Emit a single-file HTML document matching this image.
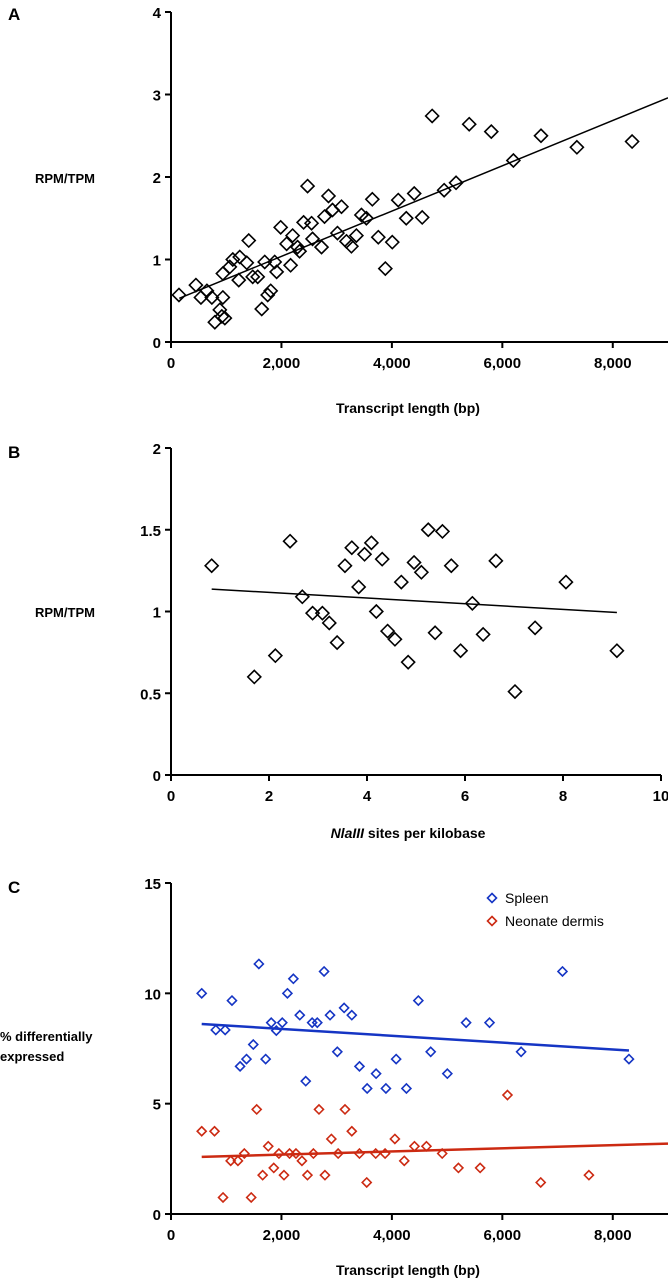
<!DOCTYPE html>
<html><head><meta charset="utf-8"><style>
html,body{margin:0;padding:0;background:#fff;}
svg{display:block;font-family:"Liberation Sans",Arial,sans-serif;}
</style></head><body>
<svg id="fig" width="668" height="1280" viewBox="0 0 668 1280" xmlns="http://www.w3.org/2000/svg"></svg>
<script>
// Panel A data
const aX = [144,451,542,650,740,939,884,794,975,921,939,1065,1119,1245,1372,1227,1408,1480,1570,1643,1751,1805,1697,1877,1913,1986,2094,2166,2202,2292,2328,2401,2473,2545,2563,2726,2780,2852,2924,3087,3014,3177,3267,3357,3448,3538,3646,3754,3881,4007,4115,4260,4404,4549,4729,4946,5162,5400,5800,6200,6700,7350,8350];
const aY = [0.57,0.69,0.54,0.62,0.54,0.54,0.39,0.24,0.29,0.31,0.83,0.91,1.00,1.03,0.96,0.75,1.23,0.79,0.79,0.40,0.57,0.62,0.97,0.97,0.85,1.39,1.19,0.93,1.29,1.15,1.10,1.45,1.89,1.44,1.25,1.15,1.52,1.77,1.60,1.64,1.32,1.22,1.16,1.29,1.54,1.50,1.73,1.27,0.89,1.21,1.72,1.50,1.80,1.51,2.74,1.84,1.93,2.64,2.55,2.20,2.50,2.36,2.43];
const aFitX = [150, 9000];
const aFitY = [0.53, 2.96];
const aXTicks = [0,2000,4000,6000,8000];
const aXTickLabels = ["0","2,000","4,000","6,000","8,000"];
const aYTicks = [0,1,2,3,4];
// Panel B data
const bX = [0.83,1.70,2.13,2.43,2.68,2.89,3.09,3.23,3.39,3.55,3.69,3.83,3.95,4.09,4.19,4.31,4.42,4.57,4.70,4.84,4.96,5.11,5.25,5.39,5.54,5.72,5.91,6.15,6.37,6.63,7.02,7.43,8.06,9.10];
const bY = [1.28,0.60,0.73,1.43,1.09,0.99,0.99,0.93,0.81,1.28,1.39,1.15,1.35,1.42,1.00,1.32,0.88,0.83,1.18,0.69,1.30,1.24,1.50,0.87,1.49,1.28,0.76,1.05,0.86,1.31,0.51,0.90,1.18,0.76];
const bFitX = [0.83, 9.10];
const bFitY = [1.137, 0.994];
const bXTicks = [0,2,4,6,8,10];
const bYTicks = [0,0.5,1,1.5,2];
const bYTickLabels = ["0","0.5","1","1.5","2"];
// Panel C data
const spleenX = [556,811,981,1104,1251,1367,1490,1591,1714,1815,1907,2015,2108,2216,2332,2440,2556,2649,2772,2880,3012,3135,3274,3413,3552,3714,3892,4077,4263,4479,4703,5004,5344,5768,6340,7089,8293];
const spleenY = [10.0,8.34,8.34,9.67,6.69,7.02,7.68,11.33,7.02,8.67,8.31,8.67,10.0,10.66,9.01,6.02,8.67,8.67,10.99,9.01,7.35,9.34,9.01,6.69,5.69,6.36,5.69,7.02,5.69,9.67,7.35,6.36,8.67,8.67,7.35,10.99,7.02];
const dermisX = [556,788,942,1081,1212,1328,1452,1552,1660,1761,1861,1954,2046,2147,2263,2371,2471,2579,2680,2788,2904,3027,3151,3274,3413,3544,3707,3877,4054,4224,4409,4626,4911,5205,5598,6093,6695,7568];
const dermisY = [3.75,3.75,0.75,2.41,2.41,2.74,0.75,4.74,1.76,3.07,2.09,2.74,1.76,2.74,2.74,2.41,1.76,2.74,4.74,1.76,3.40,2.74,4.74,3.75,2.74,1.43,2.74,2.74,3.40,2.41,3.07,3.07,2.74,2.09,2.09,5.39,1.43,1.76];
const spleenFitX = [556, 8293];
const spleenFitY = [8.61, 7.41];
const dermisFitX = [556, 9000];
const dermisFitY = [2.59, 3.19];
const cYTicks = [0,5,10,15];

const NS = "http://www.w3.org/2000/svg";
const svg = document.getElementById('fig');
function mk(tag, attrs, parent){ const e=document.createElementNS(NS,tag); for(const k in attrs) e.setAttribute(k,attrs[k]); (parent||svg).appendChild(e); return e; }
function txt(s, x, y, anchor, size, weight, parent){ const t=mk('text',{x:x,y:y,'text-anchor':anchor,'font-size':size,'font-weight':weight,fill:'#000'},parent); t.textContent=s; return t; }
function lin(d0,d1,p0,p1){ return v => p0 + (v-d0)/(d1-d0)*(p1-p0); }
function diamond(g, x, y, r, color, sw){ return mk('path',{d:`M${x} ${y-r}L${x+r} ${y}L${x} ${y+r}L${x-r} ${y}Z`,fill:'none',stroke:color,'stroke-width':sw},g); }

function axes(g, sx, sy, xTicks, xLabels, yTicks, yLabels, x0, x1, y0, y1){
  const ax = mk('g',{},g);
  
  
  mk('line',{x1:sx(x0),y1:sy(y0),x2:sx(x0),y2:sy(y1),stroke:'#000','stroke-width':2},ax);
  mk('line',{x1:sx(x0)-6,y1:sy(y0),x2:sx(x1),y2:sy(y0),stroke:'#000','stroke-width':2},ax);
  xTicks.forEach((v,i)=>{ const x=sx(v); mk('line',{x1:x,y1:sy(y0),x2:x,y2:sy(y0)+6,stroke:'#000','stroke-width':2},ax);
    const t=txt(xLabels[i],x,sy(y0)+26,'middle',15,'bold',ax);
      });
  yTicks.forEach((v,i)=>{ const y=sy(v); mk('line',{x1:sx(x0)-6,y1:y,x2:sx(x0),y2:y,stroke:'#000','stroke-width':2},ax);
    const t=txt(yLabels[i],sx(x0)-10,y+6,'end',15,'bold',ax);
      });
}

// ---- Panel A ----
const gA = mk('g',{});


const axA = lin(0,9000,171,668), ayA = lin(0,4,342,12);
axes(gA, axA, ayA, aXTicks, aXTickLabels, aYTicks, aYTicks.map(String), 0, 9000, 0, 4);
let t = txt('A',8,20,'start',17,'bold',gA);
 
t = txt('RPM/TPM',35,183,'start',13,'bold',gA);
 
t = txt('Transcript length (bp)',408,413,'middle',14,'bold',gA);
 
let fl = mk('line',{x1:axA(aFitX[0]),y1:ayA(aFitY[0]),x2:axA(aFitX[1]),y2:ayA(aFitY[1]),stroke:'#000','stroke-width':1.5},gA);
 
aX.forEach((v,i)=>{ const d=diamond(gA, axA(v), ayA(aY[i]), 6.5, '#000', 1.6);
    });

// ---- Panel B ----
const gB = mk('g',{});


const axB = lin(0,10,171,661), ayB = lin(0,2,775,448);
axes(gB, axB, ayB, bXTicks, bXTicks.map(String), bYTicks, bYTickLabels, 0, 10, 0, 2);
t = txt('B',8,458,'start',17,'bold',gB);
 
t = txt('RPM/TPM',35,617,'start',13,'bold',gB);
 
t = mk('text',{x:408,y:838,'text-anchor':'middle','font-size':14,'font-weight':'bold'},gB);
 
t.innerHTML = '<tspan font-style="italic">NlaIII</tspan> sites per kilobase';
fl = mk('line',{x1:axB(bFitX[0]),y1:ayB(bFitY[0]),x2:axB(bFitX[1]),y2:ayB(bFitY[1]),stroke:'#000','stroke-width':1.5},gB);
 
bX.forEach((v,i)=>{ const d=diamond(gB, axB(v), ayB(bY[i]), 6.5, '#000', 1.6);
    });

// ---- Panel C ----
const gC = mk('g',{});


const axC = lin(0,9000,171,668), ayC = lin(0,15,1214,883);
axes(gC, axC, ayC, aXTicks, aXTickLabels, cYTicks, cYTicks.map(String), 0, 9000, 0, 15);
t = txt('C',8,893,'start',17,'bold',gC);
 
t = txt('% differentially',0,1041,'start',13,'bold',gC);
 
t = txt('expressed',0,1061,'start',13,'bold',gC);
 
t = txt('Transcript length (bp)',408,1275,'middle',14,'bold',gC);
 
const BLUE='#1535c4', RED='#cc2a12';
fl = mk('line',{x1:axC(spleenFitX[0]),y1:ayC(spleenFitY[0]),x2:axC(spleenFitX[1]),y2:ayC(spleenFitY[1]),stroke:BLUE,'stroke-width':2.5},gC);
 
fl = mk('line',{x1:axC(dermisFitX[0]),y1:ayC(dermisFitY[0]),x2:axC(dermisFitX[1]),y2:ayC(dermisFitY[1]),stroke:RED,'stroke-width':2.5},gC);
 
spleenX.forEach((v,i)=>{ const d=diamond(gC, axC(v), ayC(spleenY[i]), 4.5, BLUE, 1.6);
    });
dermisX.forEach((v,i)=>{ const d=diamond(gC, axC(v), ayC(dermisY[i]), 4.5, RED, 1.6);
    });
// legend
const lg = mk('g',{},gC);


let ld = diamond(lg, 492, 898, 4.5, BLUE, 1.6);
 
t = txt('Spleen',505,903,'start',14,'normal',lg);
 
ld = diamond(lg, 492, 921, 4.5, RED, 1.6);
 
t = txt('Neonate dermis',505,926,'start',14,'normal',lg);
 
</script>
</body></html>
